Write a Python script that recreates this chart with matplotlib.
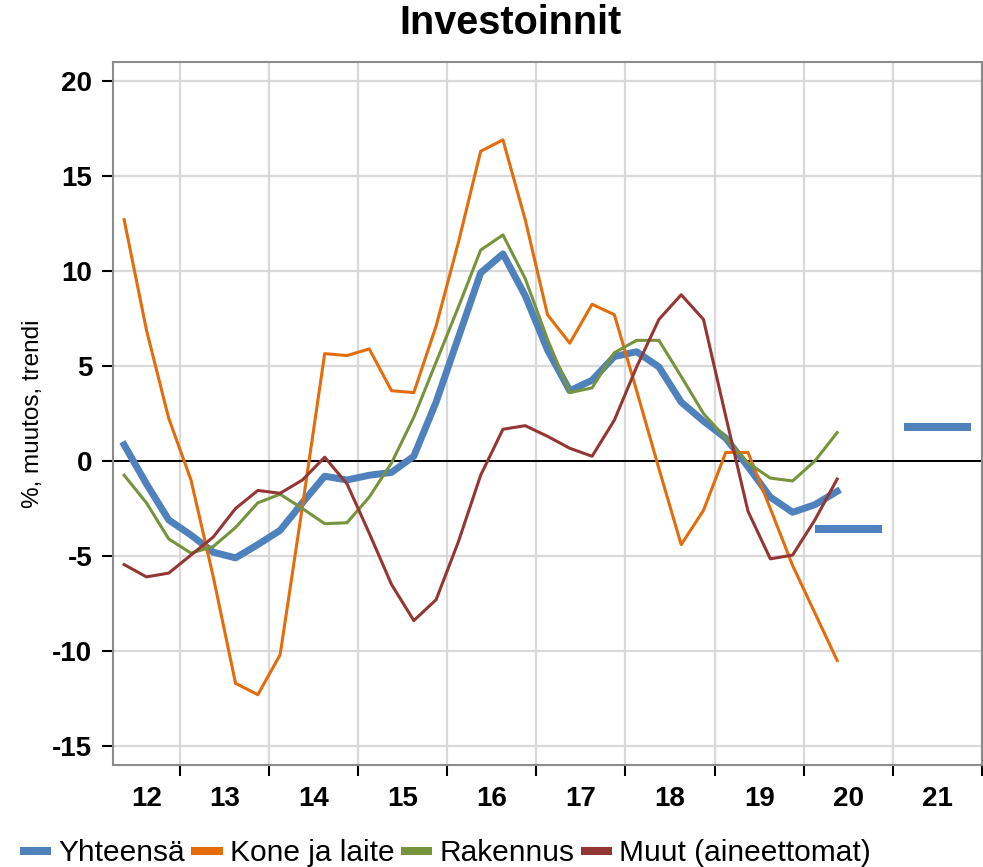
"""
Investoinnit: vuosimuutos (trendi) neljännesvuosittain
"""

import pandas as pd
import matplotlib.pyplot as plt
from matplotlib.axes import Axes
from matplotlib.lines import Line2D

plt.rcParams['font.family'] = ['Liberation Sans', 'DejaVu Sans']
plt.rcParams['axes.unicode_minus'] = False

# Neljännekset 2012Q2 - 2021Q4 (x-akselin kategoriat)
neljannekset = pd.period_range('2012Q2', '2021Q4', freq='Q')

# Toteutuneet sarjat 2012Q2 - 2020Q2, %
yhteensa = [0.85, -1.2, -3.1, -3.9, -4.8, -5.1, -4.4, -3.65, -2.2, -0.8,
            -1.0, -0.75, -0.6, 0.25, 3.1, 6.5, 9.9, 10.9, 8.7, 5.85,
            3.7, 4.25, 5.5, 5.75, 4.95, 3.1, 2.1, 1.2, -0.3, -1.9,
            -2.7, -2.3, -1.6]
kone_ja_laite = [12.7, 6.9, 2.25, -1.0, -6.1, -11.7, -12.3, -10.2, -2.4, 5.65,
                 5.55, 5.9, 3.7, 3.6, 7.1, 11.5, 16.3, 16.9, 12.7, 7.7,
                 6.2, 8.25, 7.7, 3.7, -0.4, -4.4, -2.6, 0.45, 0.45, -2.5,
                 -5.5, -8.0, -10.5]
rakennus = [-0.75, -2.2, -4.1, -4.85, -4.5, -3.5, -2.2, -1.75, -2.5, -3.3,
            -3.25, -1.9, -0.1, 2.3, 5.2, 8.1, 11.1, 11.9, 9.6, 6.4,
            3.6, 3.85, 5.7, 6.35, 6.35, 4.45, 2.5, 1.2, -0.1, -0.9,
            -1.05, 0.0, 1.5]
muut = [-5.45, -6.1, -5.9, -4.95, -4.0, -2.5, -1.55, -1.7, -1.0, 0.2,
        -1.2, -3.8, -6.5, -8.4, -7.3, -4.25, -0.75, 1.67, 1.86, 1.3,
        0.67, 0.25, 2.15, 4.95, 7.45, 8.75, 7.45, 2.35, -2.65, -5.15,
        -4.95, -3.1, -0.95]

# Ennuste (koko vuoden muutos)
ennuste_vuodet = [2020, 2021]
ennuste_arvot = [-3.6, 1.8]

sarjat = ['Yhteensä', 'Kone ja laite', 'Rakennus', 'Muut (aineettomat)']
varit = ['#4F81BD', '#E46C0A', '#77933C', '#943634']
y_ticks = [-15, -10, -5, 0, 5, 10, 15, 20]


def create_figure():
    """
    Kuva ja akselit
    """
    fig = plt.figure(figsize=(9.83, 8.67), dpi=100)
    ax: Axes = fig.add_axes([113 / 983, 1 - 765 / 867, 869 / 983, 703 / 867])
    fig.text(510 / 983, 1 - 23 / 867, 'Investoinnit', fontsize=28.5, fontweight='bold',
             ha='center', va='center')
    return fig, ax


def plot_lines(ax):
    """
    Piirretään sarjat
    """
    x = list(range(len(yhteensa)))
    ax.plot(x, yhteensa, color=varit[0], lw=5, zorder=3)
    ax.plot(x, kone_ja_laite, color=varit[1], lw=2.2, zorder=4)
    ax.plot(x, rakennus, color=varit[2], lw=2.2, zorder=4)
    ax.plot(x, muut, color=varit[3], lw=2.2, zorder=4)

    # ennusteviivat vuoden ensimmäisestä neljänneksestä viimeiseen
    for vuosi, arvo in zip(ennuste_vuodet, ennuste_arvot):
        idx = [i for i, q in enumerate(neljannekset) if q.year == vuosi]
        ax.plot([idx[0], idx[-1]], [arvo, arvo], color=varit[0], lw=5.8,
                solid_capstyle='butt', zorder=3)


def style_axes(ax):
    """
    Akselit, ruudukko ja otsikot
    """
    n = len(neljannekset)
    ax.set_xlim(-0.5, n - 0.5)
    ax.set_ylim(-16, 21)

    # vuosien rajat pääjakoviivoiksi, vuosiluvut keskelle
    vuodet = sorted(set(q.year for q in neljannekset))
    rajat = [i - 0.5 for i, q in enumerate(neljannekset) if q.quarter == 1] + [n - 0.5]
    keskit = []
    for v in vuodet:
        idx = [i for i, q in enumerate(neljannekset) if q.year == v]
        keskit.append(sum(idx) / len(idx))
    ax.set_xticks(rajat)
    ax.set_xticklabels([])
    ax.set_xticks(keskit, minor=True)
    ax.set_xticklabels([str(v)[2:] for v in vuodet], minor=True)
    ax.tick_params(axis='x', which='major', direction='out', length=8, width=1.5,
                   color='black')
    ax.tick_params(axis='x', which='minor', length=0, pad=15, labelsize=20)
    for lab in ax.get_xticklabels(minor=True):
        lab.set_fontweight('bold')

    ax.set_yticks(y_ticks)
    ax.tick_params(axis='y', direction='out', length=8, width=1.5, color='black',
                   pad=7, labelsize=20)
    for lab in ax.get_yticklabels():
        lab.set_fontweight('bold')

    ax.grid(color='#d9d9d9', lw=1.6, zorder=0)
    ax.set_axisbelow(True)
    ax.axhline(0, color='black', lw=1.4, zorder=2)

    for s in ax.spines.values():
        s.set_color('#8c8c8c')
        s.set_linewidth(1.5)

    ax.set_ylabel('%, muutos, trendi', fontsize=17.5)
    ax.yaxis.set_label_coords(-(113 - 44) / 869, 0.5)


def add_legend(fig):
    """
    Selite kuvan alareunaan
    """
    handles = [Line2D([], [], color=c, lw=5.8, solid_capstyle='butt') for c in varit]
    fig.legend(handles, sarjat, loc='center left', bbox_to_anchor=(20 / 983, 1 - 853 / 867),
               ncol=4, frameon=False, fontsize=21.5, handlelength=1.05, handletextpad=0.25,
               columnspacing=0.2, borderaxespad=0, borderpad=0)


def main():
    fig, ax = create_figure()
    plot_lines(ax)
    style_axes(ax)
    add_legend(fig)
    fig.savefig('out.png', dpi=100)


if __name__ == '__main__':
    main()
